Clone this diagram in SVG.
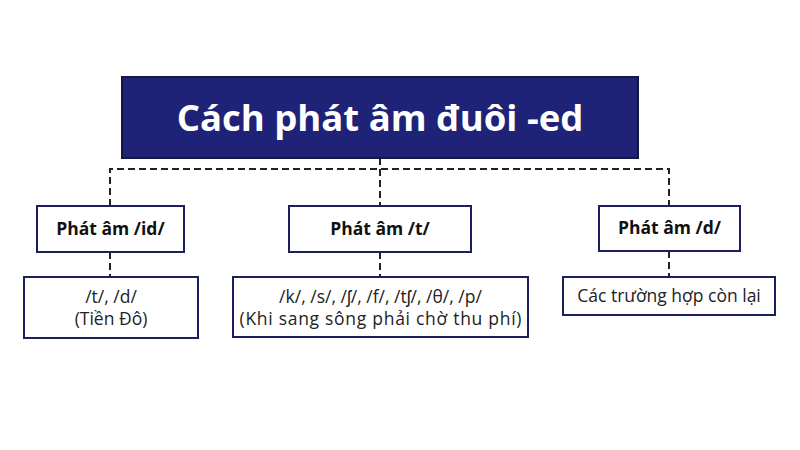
<svg xmlns="http://www.w3.org/2000/svg" width="800" height="450" viewBox="0 0 800 450">
<style>
.box{fill:#ffffff;stroke:#1c1f5e;stroke-width:2}
.title{fill:#1f2378;stroke:#15173f;stroke-width:2}
.conn{fill:none;stroke:#222;stroke-width:2;stroke-dasharray:7,4}
.h{font-family:"Open Sans","Liberation Sans",sans-serif;font-weight:700;font-size:17.5px;fill:#111;text-anchor:middle}
.t{font-family:"Open Sans","Liberation Sans",sans-serif;font-weight:400;font-size:17.5px;fill:#222;text-anchor:middle}
.tt{font-family:"Open Sans","Liberation Sans",sans-serif;font-weight:700;font-size:36.5px;fill:#ffffff;text-anchor:middle}
</style>
<rect width="800" height="450" fill="#ffffff"/>
<g id="connectors">
<path class="conn" d="M380 158 V206"/>
<path class="conn" d="M110 206 V169 H669 V206"/>
<path class="conn" d="M110 252 V277"/>
<path class="conn" d="M380 252 V277"/>
<path class="conn" d="M669 251 V277"/>
</g>
<g id="root">
<rect class="title" x="122" y="77" width="516" height="81"/>
<text class="tt" x="380" y="131">Cách phát âm đuôi -ed</text>
</g>
<g id="id">
<rect class="box" x="37" y="206" width="147" height="46"/>
<text class="h" x="110.5" y="235">Phát âm /id/</text>
</g>
<g id="t">
<rect class="box" x="289" y="206" width="182" height="46"/>
<text class="h" x="380" y="235">Phát âm /t/</text>
</g>
<g id="d">
<rect class="box" x="599" y="206" width="141" height="45"/>
<text class="h" x="669.5" y="234">Phát âm /d/</text>
</g>
<g id="id-ex">
<rect class="box" x="24" y="277" width="174" height="61"/>
<text class="t" x="111" y="303">/t/, /d/</text>
<text class="t" x="111" y="325">(Tiền Đô)</text>
</g>
<g id="t-ex">
<rect class="box" x="233" y="277" width="295" height="60"/>
<text class="t" x="380.5" y="303">/k/, /s/, /ʃ/, /f/, /tʃ/, /θ/, /p/</text>
<text class="t" x="380.5" y="325" textLength="282" lengthAdjust="spacing">(Khi sang sông phải chờ thu phí)</text>
</g>
<g id="d-ex">
<rect class="box" x="563" y="277" width="212" height="38"/>
<text class="t" x="669" y="302">Các trường hợp còn lại</text>
</g>
</svg>
